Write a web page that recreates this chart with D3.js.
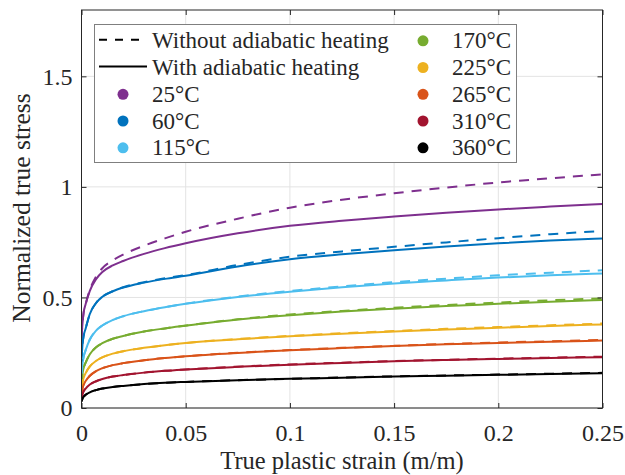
<!DOCTYPE html>
<html><head><meta charset="utf-8">
<script src="https://cdn.jsdelivr.net/npm/d3@7"></script>
<style>
body{margin:0;background:#fff}
text{font-family:"Liberation Serif","Times New Roman",serif;fill:#262626}
</style>
</head><body><svg id="c" width="625" height="475"></svg>
<script>
// True plastic strain sample points (m/m)
const strain = [0, 0.0005, 0.001, 0.002, 0.004, 0.007, 0.01, 0.015, 0.02, 0.03, 0.04, 0.05, 0.075, 0.1, 0.125, 0.15, 0.175, 0.2, 0.225, 0.25];

const temps  = ["25°C", "60°C", "115°C", "170°C", "225°C", "265°C", "310°C", "360°C"];
const colors = ["#7E2F8E", "#0072BD", "#4DBEEE", "#77AC30", "#EDB120", "#D95319", "#A2142F", "#000000"];

// With adiabatic heating (solid)
const with25  = [0.315, 0.385, 0.43, 0.47, 0.53, 0.583, 0.615, 0.645, 0.665, 0.697, 0.723, 0.745, 0.790, 0.824, 0.847, 0.866, 0.883, 0.898, 0.911, 0.923];
const with60  = [0.21, 0.29, 0.325, 0.36, 0.425, 0.475, 0.503, 0.528, 0.545, 0.567, 0.584, 0.598, 0.640, 0.673, 0.695, 0.713, 0.730, 0.745, 0.757, 0.767];
const with115 = [0.14, 0.20, 0.23, 0.262, 0.31, 0.35, 0.373, 0.398, 0.415, 0.438, 0.456, 0.471, 0.502, 0.526, 0.546, 0.563, 0.577, 0.590, 0.600, 0.608];
const with170 = [0.11, 0.155, 0.18, 0.205, 0.243, 0.275, 0.293, 0.313, 0.326, 0.346, 0.360, 0.372, 0.400, 0.420, 0.436, 0.449, 0.461, 0.471, 0.481, 0.489];
const with225 = [0.085, 0.117, 0.136, 0.158, 0.188, 0.213, 0.229, 0.246, 0.257, 0.272, 0.284, 0.294, 0.311, 0.325, 0.336, 0.346, 0.355, 0.363, 0.371, 0.378];
const with265 = [0.065, 0.09, 0.105, 0.122, 0.146, 0.167, 0.180, 0.194, 0.203, 0.216, 0.226, 0.234, 0.249, 0.261, 0.271, 0.280, 0.288, 0.294, 0.300, 0.305];
const with310 = [0.045, 0.063, 0.075, 0.088, 0.106, 0.121, 0.131, 0.142, 0.149, 0.160, 0.168, 0.174, 0.186, 0.196, 0.204, 0.211, 0.217, 0.222, 0.226, 0.230];
const with360 = [0.03, 0.043, 0.051, 0.060, 0.071, 0.081, 0.088, 0.095, 0.100, 0.108, 0.114, 0.118, 0.126, 0.132, 0.137, 0.142, 0.146, 0.150, 0.154, 0.157];

// Without adiabatic heating (dashed)
const without25  = [0.315, 0.385, 0.43, 0.47, 0.535, 0.595, 0.632, 0.668, 0.694, 0.734, 0.767, 0.797, 0.856, 0.906, 0.942, 0.971, 0.997, 1.020, 1.039, 1.057];
const without60  = [0.21, 0.29, 0.325, 0.36, 0.425, 0.475, 0.503, 0.528, 0.546, 0.569, 0.587, 0.601, 0.647, 0.684, 0.708, 0.729, 0.749, 0.768, 0.786, 0.801];
const without115 = [0.14, 0.20, 0.23, 0.262, 0.31, 0.35, 0.373, 0.398, 0.415, 0.438, 0.456, 0.472, 0.504, 0.529, 0.550, 0.569, 0.585, 0.600, 0.612, 0.623];
const without170 = [0.11, 0.155, 0.18, 0.205, 0.243, 0.275, 0.293, 0.313, 0.326, 0.346, 0.360, 0.373, 0.401, 0.423, 0.439, 0.453, 0.466, 0.477, 0.487, 0.496];
const without225 = [0.085, 0.117, 0.136, 0.158, 0.188, 0.213, 0.229, 0.246, 0.257, 0.272, 0.284, 0.294, 0.312, 0.326, 0.338, 0.348, 0.358, 0.366, 0.374, 0.382];
const without265 = [0.065, 0.09, 0.105, 0.122, 0.146, 0.167, 0.180, 0.194, 0.203, 0.216, 0.226, 0.234, 0.250, 0.262, 0.272, 0.281, 0.290, 0.296, 0.302, 0.308];
const without310 = [0.045, 0.063, 0.075, 0.088, 0.106, 0.121, 0.131, 0.142, 0.149, 0.160, 0.168, 0.174, 0.187, 0.197, 0.205, 0.212, 0.218, 0.223, 0.228, 0.232];
const without360 = [0.03, 0.043, 0.051, 0.060, 0.071, 0.081, 0.088, 0.095, 0.100, 0.108, 0.114, 0.118, 0.126, 0.132, 0.138, 0.143, 0.147, 0.151, 0.155, 0.159];

const xTicks = [0, 0.05, 0.1, 0.15, 0.2, 0.25];
const yTicks = [0, 0.5, 1, 1.5];
const xLabel = "True plastic strain (m/m)";
const yLabel = "Normalized true stress";
const legendLineLabels = ["Without adiabatic heating", "With adiabatic heating"];

const withSeries = [with25, with60, with115, with170, with225, with265, with310, with360];
const withoutSeries = [without25, without60, without115, without170, without225, without265, without310, without360];

const svg = d3.select("#c");
const L = 81.5, R = 602.5, T = 10, B = 408;
const x = d3.scaleLinear().domain([0, 0.25]).range([L, R]);
const y = d3.scaleLinear().domain([0, 1.8]).range([B, T]);
const FS_TICK = 24, FS_LABEL = 24.5, FS_LEG = 23;
const SERIF = '"Liberation Serif","Times New Roman",serif';

// grid
const grid = svg.append("g");
grid.selectAll("line.gx").data(xTicks).enter().append("line")
  .attr("x1", d => x(d)).attr("x2", d => x(d)).attr("y1", T).attr("y2", B)
  .attr("stroke", "#e3e3e3").attr("stroke-width", 1);
grid.selectAll("line.gy").data(yTicks).enter().append("line")
  .attr("x1", L).attr("x2", R).attr("y1", d => y(d)).attr("y2", d => y(d))
  .attr("stroke", "#e3e3e3").attr("stroke-width", 1);

// curves
svg.append("clipPath").attr("id", "pc").append("rect")
  .attr("x", L).attr("y", T).attr("width", R - L).attr("height", B - T);
const line = d3.line().x((d, i) => x(strain[i])).y(d => y(d)).curve(d3.curveMonotoneX);
const curves = svg.append("g").attr("clip-path", "url(#pc)");
withSeries.forEach((s, k) => {
  curves.append("path").attr("d", line(s)).attr("fill", "none")
    .attr("stroke", colors[k]).attr("stroke-width", 2);
});
withoutSeries.forEach((s, k) => {
  curves.append("path").attr("d", line(s)).attr("fill", "none")
    .attr("stroke", colors[k]).attr("stroke-width", 2).attr("stroke-dasharray", "10,8");
});

// axes
const fmt = d => String(d);
const ax = svg.append("g").attr("transform", `translate(0,${B})`)
  .call(d3.axisBottom(x).tickValues(xTicks).tickFormat(fmt).tickSize(-5).tickPadding(16));
const axT = svg.append("g").attr("transform", `translate(0,${T})`)
  .call(d3.axisTop(x).tickValues(xTicks).tickFormat("").tickSize(-5));
const ay = svg.append("g").attr("transform", `translate(${L},0)`)
  .call(d3.axisLeft(y).tickValues(yTicks).tickFormat(fmt).tickSize(-5).tickPadding(9));
const ayR = svg.append("g").attr("transform", `translate(${R},0)`)
  .call(d3.axisRight(y).tickValues(yTicks).tickFormat("").tickSize(-5));
[ax, axT, ay, ayR].forEach(g => {
  g.attr("font-family", null).attr("font-size", null);
  g.select(".domain").remove();
  g.selectAll(".tick line").attr("stroke", "#262626");
  g.selectAll("text").style("font-size", FS_TICK + "px").style("font-family", SERIF).style("fill", "#262626");
});
svg.append("rect").attr("x", L).attr("y", T).attr("width", R - L).attr("height", B - T)
  .attr("fill", "none").attr("stroke", "#262626").attr("stroke-width", 1);

// axis labels
svg.append("text").attr("x", (L + R) / 2).attr("y", 469).attr("text-anchor", "middle")
  .style("font-size", FS_LABEL + "px").text(xLabel);
svg.append("text").attr("transform", `translate(30,208) rotate(-90)`)
  .attr("text-anchor", "middle").style("font-size", "25.5px").text(yLabel);

// legend
const lg = svg.append("g");
lg.append("rect").attr("x", 94.5).attr("y", 24.5).attr("width", 422).attr("height", 138)
  .attr("fill", "#fff").attr("stroke", "#7f7f7f").attr("stroke-width", 1);
const rowY = [48.3, 75, 101.8, 128.5, 155.3];
legendLineLabels.forEach((t, i) => {
  lg.append("line").attr("x1", 99).attr("x2", 147).attr("y1", rowY[i] - 8.5).attr("y2", rowY[i] - 8.5)
    .attr("stroke", "#000").attr("stroke-width", 2).attr("stroke-dasharray", i === 0 ? "8,8" : null);
  lg.append("text").attr("x", 152).attr("y", rowY[i]).style("font-size", FS_LEG + "px").text(t);
});
temps.forEach((t, k) => {
  const col = k < 3 ? 0 : 1;
  const row = k < 3 ? k + 2 : k - 3;
  const mx = col === 0 ? 123 : 423;
  const tx = col === 0 ? 152 : 452;
  lg.append("circle").attr("cx", mx).attr("cy", rowY[row] - 7.5).attr("r", 5.5).attr("fill", colors[k]);
  lg.append("text").attr("x", tx).attr("y", rowY[row]).style("font-size", FS_LEG + "px").text(t);
});
</script>
</body></html>
